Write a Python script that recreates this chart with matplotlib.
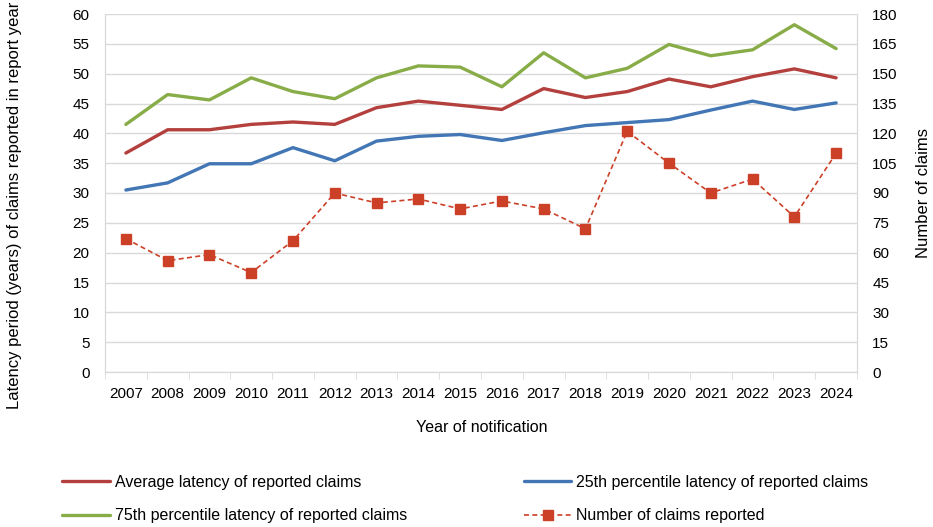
import numpy as np
import matplotlib.pyplot as plt

plt.rcParams['font.family'] = ['Liberation Sans', 'DejaVu Sans']

years = [str(y) for y in range(2007, 2025)]
avg_latency = [36.7, 40.6, 40.6, 41.5, 41.9, 41.5, 44.3, 45.4, 44.7,
               44.0, 47.5, 46.0, 47.0, 49.1, 47.8, 49.5, 50.8, 49.3]
p25_latency = [30.5, 31.7, 34.9, 34.9, 37.6, 35.4, 38.7, 39.5, 39.8,
               38.8, 40.1, 41.3, 41.8, 42.3, 43.9, 45.4, 44.0, 45.1]
p75_latency = [41.5, 46.5, 45.6, 49.3, 47.0, 45.8, 49.3, 51.3, 51.1,
               47.8, 53.5, 49.3, 50.9, 54.9, 53.0, 54.0, 58.2, 54.2]
n_claims = [67, 56, 59, 50, 66, 90, 85, 87, 82,
            86, 82, 72, 121, 105, 90, 97, 78, 110]

c_avg = '#B3403D'
c_p25 = '#4276B5'
c_p75 = '#88AD48'
c_num = '#CC4027'
grid_c = '#D9D9D9'
W, H = 933, 527

fig = plt.figure(figsize=(W / 100, H / 100), dpi=100)
ax = fig.add_axes([105 / W, 1 - 372 / H, 752 / W, 358 / H])
ax2 = ax.twinx()

x = np.arange(len(years))
l_avg, = ax.plot(x, avg_latency, color=c_avg, lw=2.4, solid_capstyle='round',
                 label='Average latency of reported claims')
l_p25, = ax.plot(x, p25_latency, color=c_p25, lw=2.4, solid_capstyle='round',
                 label='25th percentile latency of reported claims')
l_p75, = ax.plot(x, p75_latency, color=c_p75, lw=2.4, solid_capstyle='round',
                 label='75th percentile latency of reported claims')
l_num, = ax2.plot(x, n_claims, color=c_num, lw=1.2, ls=(0, (3, 2)),
                  marker='s', markersize=7, label='Number of claims reported')

ax.set_xlim(-0.5, len(years) - 0.5)
ax.set_ylim(0, 60)
ax.set_yticks(np.arange(0, 61, 5))
ax2.set_ylim(0, 180)
ax2.set_yticks(np.arange(0, 181, 15))

ax.set_xticks(x)
ax.set_xticklabels(years)
ax.set_xticks(np.arange(-0.5, len(years), 1), minor=True)
ax.tick_params(axis='x', which='major', length=0, pad=11, labelsize=11)
ax.tick_params(axis='x', which='minor', length=5, color=grid_c, direction='out')
ax.tick_params(axis='y', length=0, labelsize=11, pad=11)
ax2.tick_params(axis='y', length=0, labelsize=11, pad=11)

ax.grid(axis='y', color=grid_c, lw=1)
ax.set_axisbelow(True)
for a in (ax, ax2):
    a.spines['top'].set_visible(False)
    for s in ('left', 'right', 'bottom'):
        a.spines[s].set_color(grid_c)
ax2.patch.set_visible(False)

# axis titles placed in figure pixels
fig.text(482 / W, 1 - 428 / H, 'Year of notification', fontsize=11.5,
         ha='center', va='center')
fig.text(15 / W, 1 - 205 / H,
         'Latency period (years) of claims reported in report year',
         fontsize=12, rotation=90, ha='center', va='center')
fig.text(923 / W, 1 - 193 / H, 'Number of claims', fontsize=12,
         rotation=90, ha='center', va='center')

fig.legend(handles=[l_avg, l_p75, l_p25, l_num], ncol=2, frameon=False,
           loc='upper left', bbox_to_anchor=(62 / W, 1 - 475 / H),
           borderaxespad=0, borderpad=0, fontsize=11.5,
           handlelength=3.0, handletextpad=0.3, columnspacing=7.3,
           labelspacing=1.15)

fig.savefig('out.png', dpi=100)
